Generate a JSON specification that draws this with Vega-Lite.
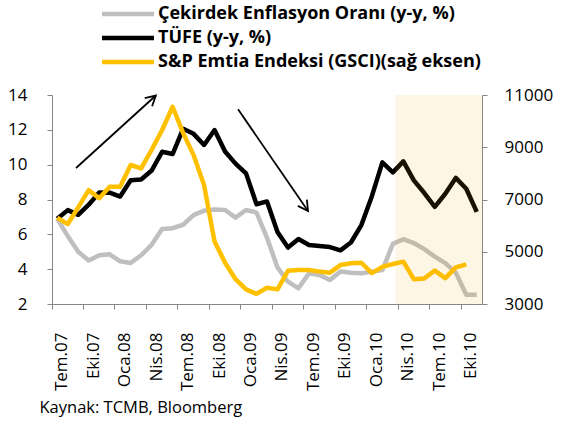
{
  "$schema": "https://vega.github.io/schema/vega-lite/v6.json",
  "width": 430,
  "height": 209,
  "autosize": {"type": "none"},
  "padding": {"left": 52, "top": 95, "right": 79, "bottom": 117},
  "background": "white",
  "config": {
    "view": {"stroke": null},
    "font": "Open Sans",
    "axis": {"grid": false, "domainColor": "#868686", "tickColor": "#868686", "tickSize": 5, "labelColor": "#000000", "labelFont": "Open Sans", "labelFontSize": 17, "domainWidth": 1, "tickWidth": 1, "labelOverlap": false}
  },
  "datasets": {
    "seriler": [
      {"ay": "2007-07", "seri": "Çekirdek Enflasyon Oranı (y-y, %)", "deger": 6.9},
      {"ay": "2007-08", "seri": "Çekirdek Enflasyon Oranı (y-y, %)", "deger": 5.9},
      {"ay": "2007-09", "seri": "Çekirdek Enflasyon Oranı (y-y, %)", "deger": 5.0},
      {"ay": "2007-10", "seri": "Çekirdek Enflasyon Oranı (y-y, %)", "deger": 4.5},
      {"ay": "2007-11", "seri": "Çekirdek Enflasyon Oranı (y-y, %)", "deger": 4.8},
      {"ay": "2007-12", "seri": "Çekirdek Enflasyon Oranı (y-y, %)", "deger": 4.85},
      {"ay": "2008-01", "seri": "Çekirdek Enflasyon Oranı (y-y, %)", "deger": 4.45},
      {"ay": "2008-02", "seri": "Çekirdek Enflasyon Oranı (y-y, %)", "deger": 4.35},
      {"ay": "2008-03", "seri": "Çekirdek Enflasyon Oranı (y-y, %)", "deger": 4.8},
      {"ay": "2008-04", "seri": "Çekirdek Enflasyon Oranı (y-y, %)", "deger": 5.4},
      {"ay": "2008-05", "seri": "Çekirdek Enflasyon Oranı (y-y, %)", "deger": 6.3},
      {"ay": "2008-06", "seri": "Çekirdek Enflasyon Oranı (y-y, %)", "deger": 6.35},
      {"ay": "2008-07", "seri": "Çekirdek Enflasyon Oranı (y-y, %)", "deger": 6.55},
      {"ay": "2008-08", "seri": "Çekirdek Enflasyon Oranı (y-y, %)", "deger": 7.1},
      {"ay": "2008-09", "seri": "Çekirdek Enflasyon Oranı (y-y, %)", "deger": 7.36},
      {"ay": "2008-10", "seri": "Çekirdek Enflasyon Oranı (y-y, %)", "deger": 7.42},
      {"ay": "2008-11", "seri": "Çekirdek Enflasyon Oranı (y-y, %)", "deger": 7.4},
      {"ay": "2008-12", "seri": "Çekirdek Enflasyon Oranı (y-y, %)", "deger": 6.96},
      {"ay": "2009-01", "seri": "Çekirdek Enflasyon Oranı (y-y, %)", "deger": 7.4},
      {"ay": "2009-02", "seri": "Çekirdek Enflasyon Oranı (y-y, %)", "deger": 7.25},
      {"ay": "2009-03", "seri": "Çekirdek Enflasyon Oranı (y-y, %)", "deger": 5.8},
      {"ay": "2009-04", "seri": "Çekirdek Enflasyon Oranı (y-y, %)", "deger": 4.1},
      {"ay": "2009-05", "seri": "Çekirdek Enflasyon Oranı (y-y, %)", "deger": 3.28},
      {"ay": "2009-06", "seri": "Çekirdek Enflasyon Oranı (y-y, %)", "deger": 2.9},
      {"ay": "2009-07", "seri": "Çekirdek Enflasyon Oranı (y-y, %)", "deger": 3.76},
      {"ay": "2009-08", "seri": "Çekirdek Enflasyon Oranı (y-y, %)", "deger": 3.67},
      {"ay": "2009-09", "seri": "Çekirdek Enflasyon Oranı (y-y, %)", "deger": 3.38},
      {"ay": "2009-10", "seri": "Çekirdek Enflasyon Oranı (y-y, %)", "deger": 3.86},
      {"ay": "2009-11", "seri": "Çekirdek Enflasyon Oranı (y-y, %)", "deger": 3.8},
      {"ay": "2009-12", "seri": "Çekirdek Enflasyon Oranı (y-y, %)", "deger": 3.76},
      {"ay": "2010-01", "seri": "Çekirdek Enflasyon Oranı (y-y, %)", "deger": 3.86},
      {"ay": "2010-02", "seri": "Çekirdek Enflasyon Oranı (y-y, %)", "deger": 3.95},
      {"ay": "2010-03", "seri": "Çekirdek Enflasyon Oranı (y-y, %)", "deger": 5.45},
      {"ay": "2010-04", "seri": "Çekirdek Enflasyon Oranı (y-y, %)", "deger": 5.72},
      {"ay": "2010-05", "seri": "Çekirdek Enflasyon Oranı (y-y, %)", "deger": 5.5},
      {"ay": "2010-06", "seri": "Çekirdek Enflasyon Oranı (y-y, %)", "deger": 5.15},
      {"ay": "2010-07", "seri": "Çekirdek Enflasyon Oranı (y-y, %)", "deger": 4.72},
      {"ay": "2010-08", "seri": "Çekirdek Enflasyon Oranı (y-y, %)", "deger": 4.35},
      {"ay": "2010-09", "seri": "Çekirdek Enflasyon Oranı (y-y, %)", "deger": 3.8},
      {"ay": "2010-10", "seri": "Çekirdek Enflasyon Oranı (y-y, %)", "deger": 2.53},
      {"ay": "2010-11", "seri": "Çekirdek Enflasyon Oranı (y-y, %)", "deger": 2.53},
      {"ay": "2007-07", "seri": "TÜFE (y-y, %)", "deger": 6.9},
      {"ay": "2007-08", "seri": "TÜFE (y-y, %)", "deger": 7.39},
      {"ay": "2007-09", "seri": "TÜFE (y-y, %)", "deger": 7.12},
      {"ay": "2007-10", "seri": "TÜFE (y-y, %)", "deger": 7.7},
      {"ay": "2007-11", "seri": "TÜFE (y-y, %)", "deger": 8.4},
      {"ay": "2007-12", "seri": "TÜFE (y-y, %)", "deger": 8.39},
      {"ay": "2008-01", "seri": "TÜFE (y-y, %)", "deger": 8.17},
      {"ay": "2008-02", "seri": "TÜFE (y-y, %)", "deger": 9.1},
      {"ay": "2008-03", "seri": "TÜFE (y-y, %)", "deger": 9.15},
      {"ay": "2008-04", "seri": "TÜFE (y-y, %)", "deger": 9.66},
      {"ay": "2008-05", "seri": "TÜFE (y-y, %)", "deger": 10.74},
      {"ay": "2008-06", "seri": "TÜFE (y-y, %)", "deger": 10.61},
      {"ay": "2008-07", "seri": "TÜFE (y-y, %)", "deger": 12.06},
      {"ay": "2008-08", "seri": "TÜFE (y-y, %)", "deger": 11.77},
      {"ay": "2008-09", "seri": "TÜFE (y-y, %)", "deger": 11.13},
      {"ay": "2008-10", "seri": "TÜFE (y-y, %)", "deger": 11.99},
      {"ay": "2008-11", "seri": "TÜFE (y-y, %)", "deger": 10.76},
      {"ay": "2008-12", "seri": "TÜFE (y-y, %)", "deger": 10.06},
      {"ay": "2009-01", "seri": "TÜFE (y-y, %)", "deger": 9.5},
      {"ay": "2009-02", "seri": "TÜFE (y-y, %)", "deger": 7.73},
      {"ay": "2009-03", "seri": "TÜFE (y-y, %)", "deger": 7.89},
      {"ay": "2009-04", "seri": "TÜFE (y-y, %)", "deger": 6.13},
      {"ay": "2009-05", "seri": "TÜFE (y-y, %)", "deger": 5.24},
      {"ay": "2009-06", "seri": "TÜFE (y-y, %)", "deger": 5.73},
      {"ay": "2009-07", "seri": "TÜFE (y-y, %)", "deger": 5.39},
      {"ay": "2009-08", "seri": "TÜFE (y-y, %)", "deger": 5.33},
      {"ay": "2009-09", "seri": "TÜFE (y-y, %)", "deger": 5.27},
      {"ay": "2009-10", "seri": "TÜFE (y-y, %)", "deger": 5.08},
      {"ay": "2009-11", "seri": "TÜFE (y-y, %)", "deger": 5.53},
      {"ay": "2009-12", "seri": "TÜFE (y-y, %)", "deger": 6.53},
      {"ay": "2010-01", "seri": "TÜFE (y-y, %)", "deger": 8.19},
      {"ay": "2010-02", "seri": "TÜFE (y-y, %)", "deger": 10.13},
      {"ay": "2010-03", "seri": "TÜFE (y-y, %)", "deger": 9.56},
      {"ay": "2010-04", "seri": "TÜFE (y-y, %)", "deger": 10.19},
      {"ay": "2010-05", "seri": "TÜFE (y-y, %)", "deger": 9.1},
      {"ay": "2010-06", "seri": "TÜFE (y-y, %)", "deger": 8.37},
      {"ay": "2010-07", "seri": "TÜFE (y-y, %)", "deger": 7.58},
      {"ay": "2010-08", "seri": "TÜFE (y-y, %)", "deger": 8.33},
      {"ay": "2010-09", "seri": "TÜFE (y-y, %)", "deger": 9.24},
      {"ay": "2010-10", "seri": "TÜFE (y-y, %)", "deger": 8.62},
      {"ay": "2010-11", "seri": "TÜFE (y-y, %)", "deger": 7.29},
      {"ay": "2007-07", "seri": "S&P Emtia Endeksi (GSCI)(sağ eksen)", "deger": 6300},
      {"ay": "2007-08", "seri": "S&P Emtia Endeksi (GSCI)(sağ eksen)", "deger": 6060},
      {"ay": "2007-09", "seri": "S&P Emtia Endeksi (GSCI)(sağ eksen)", "deger": 6700},
      {"ay": "2007-10", "seri": "S&P Emtia Endeksi (GSCI)(sağ eksen)", "deger": 7360},
      {"ay": "2007-11", "seri": "S&P Emtia Endeksi (GSCI)(sağ eksen)", "deger": 7050},
      {"ay": "2007-12", "seri": "S&P Emtia Endeksi (GSCI)(sağ eksen)", "deger": 7490},
      {"ay": "2008-01", "seri": "S&P Emtia Endeksi (GSCI)(sağ eksen)", "deger": 7490},
      {"ay": "2008-02", "seri": "S&P Emtia Endeksi (GSCI)(sağ eksen)", "deger": 8320},
      {"ay": "2008-03", "seri": "S&P Emtia Endeksi (GSCI)(sağ eksen)", "deger": 8190},
      {"ay": "2008-04", "seri": "S&P Emtia Endeksi (GSCI)(sağ eksen)", "deger": 8900},
      {"ay": "2008-05", "seri": "S&P Emtia Endeksi (GSCI)(sağ eksen)", "deger": 9660},
      {"ay": "2008-06", "seri": "S&P Emtia Endeksi (GSCI)(sağ eksen)", "deger": 10550},
      {"ay": "2008-07", "seri": "S&P Emtia Endeksi (GSCI)(sağ eksen)", "deger": 9550},
      {"ay": "2008-08", "seri": "S&P Emtia Endeksi (GSCI)(sağ eksen)", "deger": 8700},
      {"ay": "2008-09", "seri": "S&P Emtia Endeksi (GSCI)(sağ eksen)", "deger": 7550},
      {"ay": "2008-10", "seri": "S&P Emtia Endeksi (GSCI)(sağ eksen)", "deger": 5390},
      {"ay": "2008-11", "seri": "S&P Emtia Endeksi (GSCI)(sağ eksen)", "deger": 4580},
      {"ay": "2008-12", "seri": "S&P Emtia Endeksi (GSCI)(sağ eksen)", "deger": 3950},
      {"ay": "2009-01", "seri": "S&P Emtia Endeksi (GSCI)(sağ eksen)", "deger": 3560},
      {"ay": "2009-02", "seri": "S&P Emtia Endeksi (GSCI)(sağ eksen)", "deger": 3390},
      {"ay": "2009-03", "seri": "S&P Emtia Endeksi (GSCI)(sağ eksen)", "deger": 3620},
      {"ay": "2009-04", "seri": "S&P Emtia Endeksi (GSCI)(sağ eksen)", "deger": 3560},
      {"ay": "2009-05", "seri": "S&P Emtia Endeksi (GSCI)(sağ eksen)", "deger": 4270},
      {"ay": "2009-06", "seri": "S&P Emtia Endeksi (GSCI)(sağ eksen)", "deger": 4300},
      {"ay": "2009-07", "seri": "S&P Emtia Endeksi (GSCI)(sağ eksen)", "deger": 4300},
      {"ay": "2009-08", "seri": "S&P Emtia Endeksi (GSCI)(sağ eksen)", "deger": 4240},
      {"ay": "2009-09", "seri": "S&P Emtia Endeksi (GSCI)(sağ eksen)", "deger": 4200},
      {"ay": "2009-10", "seri": "S&P Emtia Endeksi (GSCI)(sağ eksen)", "deger": 4490},
      {"ay": "2009-11", "seri": "S&P Emtia Endeksi (GSCI)(sağ eksen)", "deger": 4560},
      {"ay": "2009-12", "seri": "S&P Emtia Endeksi (GSCI)(sağ eksen)", "deger": 4580},
      {"ay": "2010-01", "seri": "S&P Emtia Endeksi (GSCI)(sağ eksen)", "deger": 4180},
      {"ay": "2010-02", "seri": "S&P Emtia Endeksi (GSCI)(sağ eksen)", "deger": 4420},
      {"ay": "2010-03", "seri": "S&P Emtia Endeksi (GSCI)(sağ eksen)", "deger": 4530},
      {"ay": "2010-04", "seri": "S&P Emtia Endeksi (GSCI)(sağ eksen)", "deger": 4620},
      {"ay": "2010-05", "seri": "S&P Emtia Endeksi (GSCI)(sağ eksen)", "deger": 3950},
      {"ay": "2010-06", "seri": "S&P Emtia Endeksi (GSCI)(sağ eksen)", "deger": 3980},
      {"ay": "2010-07", "seri": "S&P Emtia Endeksi (GSCI)(sağ eksen)", "deger": 4280},
      {"ay": "2010-08", "seri": "S&P Emtia Endeksi (GSCI)(sağ eksen)", "deger": 3990},
      {"ay": "2010-09", "seri": "S&P Emtia Endeksi (GSCI)(sağ eksen)", "deger": 4400},
      {"ay": "2010-10", "seri": "S&P Emtia Endeksi (GSCI)(sağ eksen)", "deger": 4520}
    ],
    "ok1": [{"bas_ay": "2007-09", "bas_deger": 9.81, "uc_ay": "2008-04", "uc_deger": 13.97}],
    "ok2": [{"bas_ay": "2008-12", "bas_deger": 13.18, "uc_ay": "2009-07", "uc_deger": 7.34}],
    "bolge": [{"bas": "2010-03", "bit": "2010-11"}]
  },
  "layer": [
    {
      "layer": [
        {
          "data": {"name": "seriler"},
          "transform": [{"filter": "datum.seri == 'Çekirdek Enflasyon Oranı (y-y, %)'"}],
          "mark": {"type": "line", "strokeWidth": 4.5, "strokeJoin": "round", "strokeCap": "butt"},
          "encoding": {
            "x": {
              "field": "ay", "type": "ordinal",
              "scale": {"paddingInner": 0, "paddingOuter": 0, "domain": ["2007-07","2007-08","2007-09","2007-10","2007-11","2007-12","2008-01","2008-02","2008-03","2008-04","2008-05","2008-06","2008-07","2008-08","2008-09","2008-10","2008-11","2008-12","2009-01","2009-02","2009-03","2009-04","2009-05","2009-06","2009-07","2009-08","2009-09","2009-10","2009-11","2009-12","2010-01","2010-02","2010-03","2010-04","2010-05","2010-06","2010-07","2010-08","2010-09","2010-10","2010-11"]},
              "axis": {
                "values": ["2007-07","2007-10","2008-01","2008-04","2008-07","2008-10","2009-01","2009-04","2009-07","2009-10","2010-01","2010-04","2010-07","2010-10"],
                "bandPosition": 0,
                "labelAngle": -90,
                "labelOffset": 5,
                "labelPadding": 23,
                "labelOverlap": false,
                "labelExpr": "(substring(datum.value,5,7)=='01'?'Oca':substring(datum.value,5,7)=='04'?'Nis':substring(datum.value,5,7)=='07'?'Tem':'Eki')+'.'+substring(datum.value,2,4)",
                "title": "Kaynak: TCMB, Bloomberg",
                "titleFont": "Open Sans",
                "titleFontSize": 16.5,
                "titleFontWeight": "normal",
                "titleColor": "#000000",
                "titleAlign": "left",
                "titleBaseline": "alphabetic",
                "titleX": -13,
                "titleY": 108
              }
            },
            "y": {"field": "deger", "type": "quantitative", "scale": {"domain": [2, 14], "nice": false, "zero": false},
              "axis": {"orient": "left", "values": [2,4,6,8,10,12,14], "tickCount": 7, "labelOverlap": false, "labelPadding": 20, "title": null}},
            "color": {
              "field": "seri", "type": "nominal",
              "scale": {"domain": ["Çekirdek Enflasyon Oranı (y-y, %)", "TÜFE (y-y, %)", "S&P Emtia Endeksi (GSCI)(sağ eksen)"], "range": ["#BFBFBF", "#000000", "#FFC000"]},
              "legend": {
                "orient": "none", "legendX": 67, "legendY": -90, "title": null, "padding": 0,
                "symbolType": "M-5,0H5", "symbolSize": 108, "symbolStrokeWidth": 4.5,
                "labelOffset": 21, "labelFont": "Open Sans", "labelFontSize": 18, "labelFontWeight": "bold",
                "labelColor": "#000000", "labelLimit": 0, "rowPadding": 6
              }
            }
          }
        },
        {
          "data": {"name": "seriler"},
          "transform": [{"filter": "datum.seri == 'TÜFE (y-y, %)'"}],
          "mark": {"type": "line", "strokeWidth": 4.5, "strokeJoin": "round", "strokeCap": "butt"},
          "encoding": {
            "x": {"field": "ay", "type": "ordinal"},
            "y": {"field": "deger", "type": "quantitative"},
            "color": {"field": "seri", "type": "nominal"}
          }
        },
        {
          "data": {"name": "ok1"},
          "mark": {"type": "rule", "color": "#000000", "strokeWidth": 1.8},
          "encoding": {
            "x": {"field": "bas_ay", "type": "ordinal", "bandPosition": 0.29},
            "x2": {"field": "uc_ay", "bandPosition": 0.9},
            "y": {"field": "bas_deger", "type": "quantitative"},
            "y2": {"field": "uc_deger"}
          }
        },
        {
          "data": {"name": "ok1"},
          "mark": {"type": "point", "shape": "M-0.55,1L0,0L0.55,1", "size": 400, "filled": false, "color": "#000000", "strokeWidth": 1.8, "opacity": 1, "angle": 47.8},
          "encoding": {
            "x": {"field": "uc_ay", "type": "ordinal", "bandPosition": 0.9},
            "y": {"field": "uc_deger", "type": "quantitative"}
          }
        },
        {
          "data": {"name": "ok2"},
          "mark": {"type": "rule", "color": "#000000", "strokeWidth": 1.8},
          "encoding": {
            "x": {"field": "bas_ay", "type": "ordinal", "bandPosition": 0.74},
            "x2": {"field": "uc_ay", "bandPosition": 0.41},
            "y": {"field": "bas_deger", "type": "quantitative"},
            "y2": {"field": "uc_deger"}
          }
        },
        {
          "data": {"name": "ok2"},
          "mark": {"type": "point", "shape": "M-0.55,1L0,0L0.55,1", "size": 400, "filled": false, "color": "#000000", "strokeWidth": 1.8, "opacity": 1, "angle": 145.5},
          "encoding": {
            "x": {"field": "uc_ay", "type": "ordinal", "bandPosition": 0.41},
            "y": {"field": "uc_deger", "type": "quantitative"}
          }
        }
      ]
    },
    {
      "layer": [
        {
          "data": {"name": "seriler"},
          "transform": [{"filter": "datum.seri == 'S&P Emtia Endeksi (GSCI)(sağ eksen)'"}],
          "mark": {"type": "line", "strokeWidth": 4.5, "strokeJoin": "round", "strokeCap": "butt"},
          "encoding": {
            "x": {"field": "ay", "type": "ordinal"},
            "y": {"field": "deger", "type": "quantitative", "scale": {"domain": [3000, 11000], "nice": false, "zero": false},
              "axis": {"orient": "right", "values": [3000,5000,7000,9000,11000], "format": "d", "labelOverlap": false, "labelPadding": 17, "title": null}},
            "color": {"field": "seri", "type": "nominal"}
          }
        },
        {
          "data": {"name": "bolge"},
          "mark": {"type": "rect", "color": "#F5AA00", "opacity": 0.106},
          "encoding": {
            "x": {"field": "bas", "type": "ordinal", "bandPosition": 0.75},
            "x2": {"field": "bit", "bandPosition": 1}
          }
        }
      ]
    }
  ],
  "resolve": {"scale": {"y": "independent"}}
}
